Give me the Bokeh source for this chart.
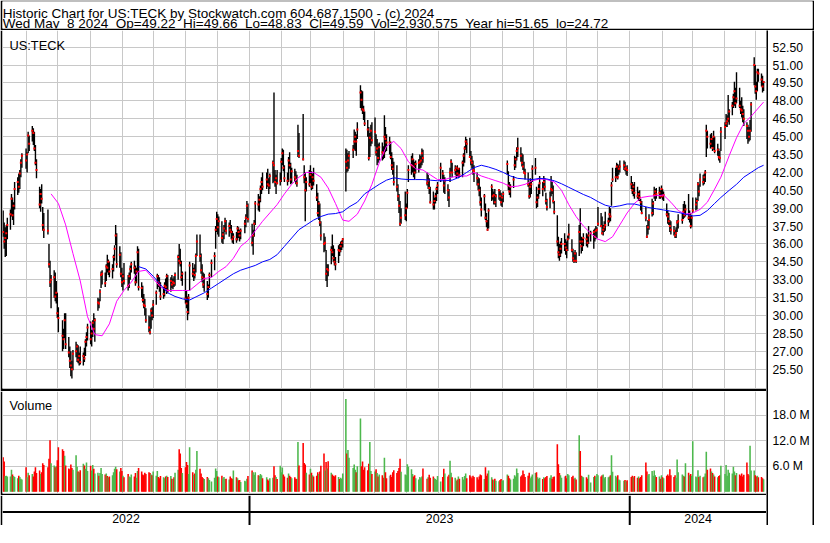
import numpy as np
import pandas as pd
from bokeh.plotting import figure
from bokeh.layouts import column, row
from bokeh.models import (ColumnDataSource, Range1d, FixedTicker, Grid,
                          CustomJSTickFormatter, Span)
from bokeh.core.properties import value
from bokeh.embed import file_html
from bokeh.resources import INLINE

# ---------------- data ----------------
NB = " \u00a0"   # double space that survives SVG whitespace collapsing
TITLE_1 = "Historic Chart for US:TECK by Stockwatch.com 604.687.1500 - (c) 2024"
TITLE_2 = NB.join(["Wed May", "8 2024", "Op=49.22", "Hi=49.66", "Lo=48.83", "Cl=49.59",
                   "Vol=2,930,575", "Year hi=51.65", "lo=24.72"])
SYMBOL = "US:TECK"

HOLIDAYS = ["2022-05-30", "2022-06-20", "2022-07-04", "2022-09-05", "2022-11-24",
            "2022-12-26", "2023-01-02", "2023-01-16", "2023-02-20", "2023-04-07",
            "2023-05-29", "2023-06-19", "2023-07-04", "2023-09-04", "2023-11-23",
            "2023-12-25", "2024-01-01", "2024-01-15", "2024-02-19", "2024-03-29"]
FIRST_DAY = "2022-05-09"
LAST_DAY = "2024-05-08"

price_ticks = [25.5, 27.0, 28.5, 30.0, 31.5, 33.0, 34.5, 36.0, 37.5, 39.0, 40.5,
               42.0, 43.5, 45.0, 46.5, 48.0, 49.5, 51.0, 52.5]
volume_ticks = [6.0, 12.0, 18.0]   # millions
years = [2022, 2023, 2024]

# daily bars, one inner list per trading week (Mon..Fri, holidays skipped)
high_w = [
 [38.8,37.8,37.4,37.6,38.2],[38.9,40.2,39.9,39.5,41.2],[41.6,41.9,42.2,43.1,43.6],[44.0,43.7,45.4,45.1],
 [45.9,45.7,45.4,44.3,43.1],[40.8,40.6,41.0,39.1,38.6],[38.9,36.0,34.6,33.4],[33.8,33.6,32.9,31.9,30.7],
 [29.6,28.9,30.2,30.2],[28.2,27.4,27.0,26.2,27.1],[27.8,27.6,27.5,26.9,27.4],[26.9,27.3,28.0,28.6,29.3],
 [29.5,28.8,29.6,30.2,29.8],[31.5,31.4,32.2,33.7,33.8],[33.6,34.3,35.1,34.7,34.5],[34.3,35.1,35.9,37.6,36.9],
 [35.8,35.3,34.0,33.5,34.4],[33.4,33.6,34.2,34.5],[34.6,34.2,34.0,35.8,35.6],[32.8,32.5,31.8,31.4,30.6],
 [30.0,29.9,30.6,30.7,31.3],[32.1,33.5,33.4,33.2,32.8],[32.4,32.8,33.1,33.5,33.4],[33.2,33.4,33.1,33.3,33.6],
 [35.1,36.0,35.6,34.6,33.7],[33.7,32.1,31.6,31.8,34.5],[34.4,34.0,34.3,35.2,36.8],[36.8,35.2,34.3,33.6,33.5],
 [32.9,32.6,33.6,34.7],[35.3,37.5,38.7,38.5,38.3],[37.9,37.0,37.6,38.2,38.0],[37.8,38.0,37.6,37.1,36.9],
 [37.0,37.5,37.4,37.2,37.3],[38.0,38.5,39.6,39.4],[37.7,37.2,38.0,39.6],[40.2,40.0,40.9,41.6,42.0],
 [42.0,42.3,41.5,41.9],[43.0,48.7,42.2,41.8,42.2],[42.0,43.2,44.0,43.9,42.6],[42.0,43.3,43.7,42.8,42.4],
 [42.3,42.1,41.8,46.0,45.3],[46.9,42.6,42.0,41.6],[42.2,42.6,42.1,41.9,42.4],[41.0,40.3,39.6,39.4,37.9],
 [36.9,36.6,35.5,34.3,34.3],[35.8,36.8,35.9,35.6,34.9],[35.9,36.0,36.2,36.3,36.5],[44.0,43.9,43.6,43.8],
 [44.3,45.6,45.4,45.2,46.2],[49.3,48.9,48.8,47.6,47.1],[46.4,45.8,45.3,46.0,46.2],[46.6,45.2,44.8,44.4,44.5],
 [44.5,44.2,46.8,45.8,45.2],[45.0,44.6,43.7,43.2,42.9],[42.6,41.0,40.2,39.6,39.0],[40.4,39.4,40.6,42.6],
 [43.4,43.6,43.1,42.9,43.0],[43.1,43.5,43.4,44.0,43.9],[42.0,41.8,41.5,40.8],[40.4,39.9,40.3,40.8,41.2],
 [42.8,42.2,41.8,41.6],[41.0,40.6,42.4,43.1,42.8],[42.6,42.5,42.6,42.3,42.4],[43.0,43.6,44.2,45.0,44.8],
 [44.9,43.8,43.4,43.0,42.6],[42.0,41.6,41.5,40.8,39.9],[40.2,39.4,38.6,38.0,39.0],[41.0,40.6,40.4,40.6,40.2],
 [40.6,40.5,40.3,40.0,40.4],[43.0,42.1,41.2,41.0],[41.7,43.4,43.3,44.1,44.9],[44.1,43.6,43.5,42.9,42.3],
 [42.0,41.2,41.5,41.3,42.6],[43.2,40.8,40.2,41.0,41.7],[41.2,41.7,41.5,40.3,39.8],[40.4,41.7,41.2,40.9,39.6],
 [38.4,36.6,36.0,36.2,36.5],[36.9,36.4,36.2,36.7,37.7],[36.4,35.6,35.3,35.5,35.3],[37.6,39.0,36.6,36.5,36.9],
 [36.9,36.8,37.5,37.1],[37.2,37.3,37.5,37.4,39.1],[38.6,38.3,37.6,37.9,38.7],[38.2,39.1,39.0,41.2,42.4],
 [42.4,42.8,42.7,42.6,43.0],[43.0,42.9,42.5,42.6],[41.7,41.2,41.0,41.2],[40.8,40.4,40.5,39.8,39.6],
 [39.1,37.6,38.0,38.5],[39.8,39.6,40.8,40.6,40.7],[40.8,40.5,40.9,40.6,40.4],[39.4,38.8,38.6,38.0,37.9],
 [37.5,37.2,37.4,38.0,38.5],[38.6,39.35,39.6,39.3],[40.2,38.8,38.6,38.4,39.9],[39.9,39.8,41.2,41.0,41.9],
 [41.8,41.9,42.2,46.0,45.5],[45.2,45.3,44.9,45.5,45.0],[44.4,44.0,43.8,45.8],[46.2,46.9,46.8,48.5,47.3],
 [47.9,48.6,49.6,49.1,50.4],[49.1,48.0,48.3,47.6,47.3],[46.2,46.0,45.8,46.4,47.9],[51.65,51.0,49.6,50.7,50.7],
 [50.3,50.1,49.66],
]
low_w = [
 [36.6,35.6,34.9,35.0,36.4],[37.2,38.3,38.0,37.6,38.9],[40.1,40.3,40.6,41.6,42.4],[42.3,42.0,43.6,43.8],
 [44.6,44.3,43.8,42.6,41.5],[39.0,38.7,39.4,37.1,36.5],[36.8,34.0,32.4,30.6],[31.5,31.2,31.0,29.8,28.6],
 [27.0,27.2,28.1,27.2],[26.5,25.6,24.9,24.72,25.4],[26.5,26.1,26.0,25.8,25.9],[25.8,26.1,26.6,27.4,27.9],
 [27.6,27.4,28.2,28.6,27.8],[30.4,30.6,31.2,32.3,32.6],[32.4,32.9,33.6,33.4,33.2],[33.1,33.7,34.6,35.9,34.0],
 [34.0,33.2,32.4,32.1,32.6],[32.1,32.3,33.0,33.6],[33.5,32.5,32.7,33.6,32.1],[31.5,31.1,30.6,30.0,29.4],
 [28.6,28.4,28.9,29.6,29.8],[30.9,32.2,32.4,32.0,31.3],[31.4,31.6,32.1,31.8,31.9],[32.0,32.3,32.2,32.4,32.5],
 [33.0,34.3,34.1,32.9,32.5],[31.0,30.6,29.6,30.1,32.1],[33.2,32.9,33.1,33.6,35.0],[34.5,33.5,32.8,32.3,32.0],
 [31.3,31.5,32.3,33.2],[33.8,35.6,37.0,36.8,36.6],[36.1,36.0,36.4,37.0,36.8],[36.6,36.9,36.4,36.1,36.0],
 [36.1,36.3,36.5,36.2,36.4],[36.9,37.4,38.1,37.8],[35.8,35.1,36.6,37.6],[38.8,38.7,39.5,40.2,40.5],
 [40.6,40.8,40.2,40.6],[41.1,41.2,40.8,40.2,41.0],[40.9,41.2,42.6,42.1,41.2],[40.9,41.2,42.3,41.0,41.1],
 [41.2,41.0,40.8,43.3,43.2],[43.0,41.1,37.9,40.4],[40.8,41.1,40.5,40.6,40.9],[39.6,38.3,38.0,37.5,36.3],
 [35.3,35.4,32.9,32.4,33.3],[34.3,35.0,34.5,34.2,33.8],[34.4,35.0,35.3,35.5,35.7],[40.4,42.0,42.1,42.3],
 [43.2,43.9,43.8,43.4,44.8],[47.4,47.2,46.9,46.4,45.9],[45.0,43.0,43.3,44.2,44.4],[44.2,43.4,42.6,42.8,43.0],
 [43.0,43.1,43.2,43.7,43.8],[43.5,43.1,42.2,41.8,40.9],[40.4,39.6,38.6,37.5,37.7],[38.0,37.9,39.0,41.2],
 [41.8,42.0,41.6,41.4,41.9],[42.0,42.3,42.4,42.6,42.8],[40.9,40.6,40.2,39.4],[38.9,38.9,39.4,39.6,40.2],
 [41.2,41.4,40.3,40.2],[39.6,39.1,41.2,42.0,41.6],[41.8,41.5,41.7,41.5,41.6],[41.6,42.5,42.8,43.9,43.6],
 [43.2,42.6,42.3,41.8,41.2],[40.9,40.5,40.0,39.2,38.3],[38.8,38.0,37.4,37.1,37.3],[39.6,39.7,39.3,39.3,39.1],
 [39.7,39.6,39.2,39.1,39.5],[41.8,40.5,40.1,39.9],[40.7,42.2,42.4,43.0,43.3],[42.9,42.5,42.2,41.9,41.4],
 [40.8,39.8,39.9,40.2,41.2],[41.8,39.0,39.1,39.8,40.2],[40.0,40.6,40.4,39.3,38.8],[39.0,40.0,40.2,39.4,38.5],
 [35.8,34.8,34.6,34.9,35.2],[35.4,35.1,34.8,35.4,36.4],[35.3,34.5,34.4,34.5,34.4],[35.0,36.0,35.2,35.4,35.8],
 [35.8,35.7,36.0,36.2],[35.6,36.2,36.4,36.5,37.5],[37.4,36.8,36.7,37.0,37.1],[37.5,37.8,37.9,39.2,41.2],
 [41.2,41.5,41.4,41.8,42.0],[42.2,42.1,41.8,41.7],[40.6,40.2,40.0,39.8],[39.8,39.6,39.6,38.8,38.5],
 [37.9,36.5,36.8,37.2],[38.3,38.4,39.8,39.6,39.8],[39.8,39.8,39.9,39.7,39.6],[38.3,37.7,37.6,37.0,36.8],
 [36.7,36.5,36.5,37.0,37.3],[37.7,38.1,38.2,38.3],[38.0,37.8,37.3,37.4,38.6],[38.8,38.9,39.6,40.0,40.8],
 [40.9,41.0,41.2,43.3,44.0],[44.0,44.1,43.8,43.9,43.6],[43.4,43.0,42.8,43.8],[44.8,45.8,45.8,46.2,46.0],
 [46.8,47.4,47.6,47.4,47.8],[47.4,46.9,46.6,46.2,45.9],[44.8,44.4,44.6,44.7,45.4],[49.3,48.6,48.1,48.8,49.6],
 [49.2,48.7,48.83],
]
close_w = [
 [37.0,36.2,36.5,36.9,37.6],[38.5,39.8,38.4,39.2,40.6],[41.2,40.8,41.9,42.8,43.4],[43.0,43.5,45.1,44.4],
 [45.5,45.3,44.0,42.8,42.2],[39.3,40.2,39.8,37.6,37.2],[37.1,34.3,32.8,33.0],[33.2,31.6,31.9,30.2,29.8],
 [28.3,28.0,29.6,27.6],[26.9,26.2,25.8,25.5,26.8],[27.0,27.4,26.3,26.6,26.1],[26.6,26.4,27.8,28.2,29.0],
 [28.0,28.5,29.4,28.9,29.6],[31.1,31.0,32.0,33.4,33.5],[32.7,34.1,34.0,34.5,33.7],[33.9,34.9,35.6,36.7,34.3],
 [35.1,33.5,32.8,33.3,32.9],[32.5,33.3,33.9,34.3],[34.0,32.8,33.7,35.3,32.4],[32.3,31.3,30.9,30.8,29.6],
 [29.0,28.6,30.4,30.0,30.9],[31.9,33.3,32.8,32.6,31.6],[31.8,32.5,32.4,33.3,32.1],[32.9,32.6,32.8,32.7,33.4],
 [34.9,34.6,34.4,33.2,33.5],[31.4,31.0,30.3,31.5,34.2],[33.5,33.8,33.4,35.0,36.2],[35.0,33.8,33.2,32.6,33.1],
 [31.8,32.4,33.4,34.4],[35.0,37.2,38.1,37.4,37.9],[36.5,36.8,37.3,37.9,37.1],[37.5,37.2,37.0,36.4,36.6],
 [36.4,37.3,37.0,36.7,37.1],[37.7,38.2,39.2,38.1],[36.1,36.7,37.7,39.4],[39.3,39.7,40.6,41.2,40.8],
 [41.4,41.0,40.9,41.7],[42.8,42.6,41.2,41.5,41.1],[41.3,42.9,43.6,42.4,41.5],[41.3,43.0,42.6,41.4,42.1],
 [41.6,41.4,41.1,43.8,43.4],[43.1,41.6,40.5,41.2],[41.0,41.8,40.8,41.6,41.3],[39.9,38.6,39.4,37.8,36.7],
 [36.0,36.1,33.5,33.9,33.8],[35.5,35.3,34.8,34.5,34.3],[35.5,35.4,35.8,36.1,36.4],[42.9,42.4,43.0,43.4],
 [43.9,44.6,45.0,44.6,45.6],[48.7,48.1,47.3,47.2,46.1],[45.6,43.2,44.9,45.5,44.7],[45.4,43.7,44.0,43.2,44.1],
 [43.7,43.6,45.0,44.8,44.5],[44.5,43.3,42.6,42.3,41.2],[40.8,40.0,39.2,37.7,38.2],[38.4,39.0,40.3,42.2],
 [42.6,43.1,42.5,42.0,42.7],[42.8,42.9,43.0,43.6,43.2],[41.1,41.3,40.7,39.5],[39.3,39.6,40.0,40.6,40.9],
 [42.4,41.9,40.9,41.3],[40.5,39.9,42.0,42.9,42.0],[42.2,42.4,41.9,42.3,41.8],[42.8,43.4,44.0,44.6,44.4],
 [43.3,43.0,42.8,42.2,42.1],[41.5,41.0,40.5,39.5,38.9],[40.0,38.2,37.9,37.2,38.8],[40.8,40.0,40.1,39.5,40.0],
 [40.5,40.0,39.5,39.9,40.2],[42.7,40.9,40.4,40.8],[41.4,42.6,43.1,43.8,44.0],[43.4,42.8,42.5,42.0,41.9],
 [41.0,40.0,40.8,41.0,42.3],[42.4,39.5,39.9,40.6,41.1],[40.6,41.2,40.8,39.6,39.1],[39.8,40.6,40.5,39.6,38.7],
 [36.2,35.3,35.1,35.6,36.0],[36.0,35.7,35.5,36.4,36.8],[35.5,34.8,34.6,35.2,34.6],[37.0,36.2,35.8,36.2,36.5],
 [36.4,36.1,36.7,36.9],[37.0,36.6,37.1,37.2,37.7],[37.5,36.9,37.2,37.4,37.6],[37.9,38.5,38.3,40.9,41.4],
 [41.6,42.5,41.6,42.3,42.5],[42.6,42.3,42.4,42.2],[41.0,40.5,40.8,40.3],[40.0,40.2,39.9,39.5,38.6],
 [38.2,36.6,37.4,38.0],[38.6,39.4,40.1,40.4,40.2],[40.3,40.0,40.6,40.0,40.1],[38.5,38.3,37.9,37.5,37.2],
 [37.1,36.7,36.9,37.8,37.9],[38.0,38.7,38.4,38.9],[38.2,38.4,37.5,38.2,38.8],[39.3,39.6,41.0,40.4,41.4],
 [41.2,41.6,42.0,45.5,45.0],[44.4,44.8,44.05,45.0,43.8],[43.9,43.3,43.2,45.4],[45.8,46.1,46.3,46.5,47.1],
 [47.6,48.3,48.8,47.8,48.2],[47.6,47.3,47.2,46.9,46.5],[45.9,45.5,45.0,45.5,47.7],[51.0,49.2,48.8,50.4,50.3],
 [49.8,49.2,49.59],
]
volume_w = [  # millions of shares
 [8.1,7.1,3.7,3.8,3.6],[3.6,5.2,4.1,3.7,3.5],[3.2,3.8,3.5,3.1,2.9],[5.8,3.4,4.5,3.9],
 [4.2,3.6,4.8,5.8,4.4],[5.0,4.2,4.6,6.7,6.3],[5.8,7.8,12.1,6.7],[6.2,5.8,6.0,7.4,10.5],
 [10.0,9.6,8.5,6.2],[5.5,5.3,6.4,5.6,5.2],[8.6,5.9,4.8,4.6,5.1],[6.6,6.2,5.4,6.9,4.9],
 [6.1,5.0,6.3,5.4,4.3],[4.5,3.8,4.4,5.6,4.2],[4.1,4.3,3.7,3.4,3.6],[3.9,4.6,5.4,5.9,5.3],
 [4.8,5.6,4.9,3.8,3.4],[4.2,3.6,3.4,4.1],[3.6,4.4,3.3,4.9,5.6],[4.8,4.1,3.9,4.5,4.2],
 [4.6,4.4,4.1,3.9,4.8],[3.8,4.9,3.5,3.2,3.7],[3.4,3.2,3.6,3.8,3.5],[3.7,3.1,3.0,3.4,4.5],
 [5.2,10.0,9.0,5.6,4.4],[5.8,7.0,6.3,4.2,10.5],[4.6,4.0,4.3,5.2,9.6],[5.4,4.3,3.5,3.2,3.0],
 [3.5,3.2,2.8,2.4],[3.3,5.5,4.9,3.6,3.4],[3.8,3.2,3.5,3.0,3.1],[2.9,3.6,3.2,3.1,5.0],
 [3.4,3.2,2.7,2.8,2.3],[2.6,2.4,3.1,3.7],[5.0,4.6,4.0,4.6],[3.9,3.8,4.2,3.9,3.2],
 [3.4,2.9,2.6,3.2],[3.3,6.0,3.9,3.5,3.0],[6.1,4.6,5.7,4.1,3.6],[3.3,4.3,3.8,3.5,3.2],
 [3.4,3.1,3.0,11.7,6.2],[11.5,6.8,6.4,4.5],[4.1,5.4,4.5,3.9,3.6],[3.8,4.6,4.2,4.8,6.1],
 [9.0,5.0,7.0,5.5,7.2],[4.5,4.1,3.8,3.6,3.9],[3.5,3.0,3.3,3.1,4.3],[21.8,9.0,9.8,8.0],
 [5.6,6.4,5.2,4.6,6.0],[17.2,6.0,7.1,5.2,5.8],[5.1,6.6,11.7,4.9,4.2],[4.8,5.3,4.4,3.6,4.1],
 [3.9,3.3,8.0,4.6,3.2],[3.8,4.0,3.5,4.6,5.1],[4.4,4.9,5.6,7.8,4.7],[4.1,3.9,6.5,5.9],
 [5.3,4.2,3.6,3.9,3.2],[2.9,3.5,3.2,3.6,5.5],[3.1,3.4,4.0,3.3],[3.6,3.2,3.0,2.8,3.7],
 [2.4,3.5,5.4,4.3],[3.6,4.0,7.3,4.5,3.4],[3.3,2.6,2.9,3.6,3.1],[3.5,2.9,3.7,4.3,3.2],
 [3.9,3.6,3.2,3.8,3.5],[3.4,2.9,3.6,4.1,3.9],[3.0,5.8,3.8,4.3,5.0],[3.4,2.9,2.7,3.1,2.6],
 [2.5,2.8,3.0,2.6,2.7],[4.1,3.8,3.2,2.9],[3.1,3.9,3.6,5.5,4.4],[3.6,3.9,5.0,4.2,3.5],
 [3.8,4.5,3.2,3.6,4.1],[4.4,4.6,3.4,3.1,3.3],[3.0,3.4,3.2,3.5,3.7],[3.3,3.9,3.1,3.5,3.6],
 [11.2,6.5,4.4,3.9,3.3],[3.6,3.8,3.2,4.2,3.9],[3.5,3.8,3.1,3.3,2.9],[13.3,9.6,3.8,3.6,3.4],
 [3.4,3.1,4.0,2.2],[3.5,3.8,3.4,4.2,3.9],[3.6,3.9,4.1,3.2,3.5],[3.4,3.6,3.9,8.6,4.7],
 [3.8,3.4,3.9,2.9,2.7],[2.6,2.8,2.5,2.7],[3.5,3.8,3.4,3.7],[3.3,3.6,3.2,3.5,3.9],
 [6.9,4.8,3.9,4.2],[4.9,3.8,5.0,3.9,3.5],[3.6,3.1,3.9,3.4,3.2],[3.8,4.1,3.7,5.3,3.9],
 [3.5,3.9,3.3,7.6,4.6],[4.1,3.8,3.6,6.7],[4.5,3.9,4.2,3.8,11.9],[3.6,3.4,5.1,3.5,3.8],
 [3.4,3.6,4.3,9.4,5.2],[5.5,4.8,4.4,4.1,3.6],[3.4,3.7,3.9,6.1],[4.2,6.3,3.8,5.2,4.5],
 [4.3,5.9,4.8,3.9,4.4],[4.1,3.8,4.3,3.6,4.0],[6.9,4.2,3.9,10.8,5.0],[5.0,3.9,3.6,3.8,3.4],
 [3.5,3.2,2.93],
]
# moving averages at the last trading day of every week
ma_fast_w = [None, None, None, None, None, None,
 40.2, 39.4, 37.6, 35.2, 32.9, 29.9, 28.4, 28.3, 29.3, 31.2, 32.1, 32.8, 33.7, 33.8,
 33.1, 32.4, 32.1, 32.1, 32.1, 32.1, 32.6, 33.1, 33.2, 33.7, 34.1, 34.8, 35.8, 36.3,
 37.1, 37.9, 38.6, 39.3, 40.2, 41.0, 41.6, 42.0, 42.0, 41.6, 40.7, 39.4, 38.0, 37.9,
 38.5, 39.6, 41.0, 42.8, 44.2, 44.6, 44.0, 42.9, 42.3, 42.2, 41.8, 41.4, 41.4, 41.6,
 41.7, 41.7, 42.0, 41.7, 41.5, 41.3, 41.1, 40.8, 40.85, 41.0, 41.3, 41.45, 41.4, 41.2,
 40.5, 39.3, 38.3, 37.5, 36.9, 36.4, 36.2, 36.6, 37.6, 38.6, 39.4, 39.9, 40.0, 40.05,
 40.1, 39.5, 38.8, 38.5, 38.6, 38.9, 39.5, 40.6, 41.6, 43.4, 44.9, 46.1, 46.7, 47.4, 47.9]
ma_slow_w = [None, None, None, None, None, None, None, None, None, None, None, None,
 None, None, None, None, None, None,
 34.1, 33.9, 33.3, 32.6, 31.9, 31.6, 31.4, 31.3, 31.6, 31.9, 32.3, 32.7, 33.1, 33.5,
 33.8, 34.0, 34.2, 34.5, 34.7, 35.1, 35.8, 36.5, 37.2, 37.6, 38.0, 38.3, 38.5, 38.55,
 38.7, 39.1, 39.5, 40.2, 40.6, 41.0, 41.35, 41.55, 41.45, 41.4, 41.4, 41.4, 41.35, 41.3,
 41.3, 41.35, 41.6, 42.0, 42.4, 42.6, 42.45, 42.25, 42.0, 41.7, 41.5, 41.45, 41.4, 41.5,
 41.45, 41.3, 41.05, 40.75, 40.45, 40.15, 39.9, 39.55, 39.25, 39.1, 39.2, 39.35, 39.35,
 39.2, 39.05, 38.95, 38.85, 38.75, 38.65, 38.5, 38.35, 38.4, 38.8, 39.4, 39.9, 40.5,
 41.0, 41.6, 42.0, 42.4, 42.6]

# ---------------- assemble ----------------
DAY_MS = 86400000.0
days = pd.bdate_range(FIRST_DAY, LAST_DAY, freq="C", holidays=HOLIDAYS)
week_idx = np.asarray((days - pd.Timestamp(FIRST_DAY)).days // 7)
day_ms = (days.asi8 // 10**6).astype(float)

xs, H, L, C, V = [], [], [], [], []
week_end_x = []
for k in range(len(high_w)):
    dms = day_ms[week_idx == k]
    if len(dms) == 0:
        continue
    week_end_x.append(dms[-1] + DAY_MS / 2)
    n = min(len(dms), len(high_w[k]), len(low_w[k]), len(close_w[k]), len(volume_w[k]))
    for i in range(n):
        xs.append(dms[i] + DAY_MS / 2)
        H.append(high_w[k][i]); L.append(low_w[k][i])
        C.append(close_w[k][i]); V.append(volume_w[k][i])

GREEN, RED, GREY = "#4DB84D", "#FF0000", "#A8A8A8"
vcol = []
for i, c in enumerate(C):
    if i == 0 or c < C[i - 1]:
        vcol.append(RED)
    elif c > C[i - 1]:
        vcol.append(GREEN)
    else:
        vcol.append(GREY)

src = ColumnDataSource(dict(x=xs, hi=H, lo=L, cl=C, vol=V, color=vcol))
nw = len(week_end_x)
ma_src = ColumnDataSource(dict(
    x=week_end_x,
    fast=np.array(ma_fast_w[:nw], dtype=float),
    slow=np.array(ma_slow_w[:nw], dtype=float)))

# ---------------- layout ----------------
FONT = "Liberation Sans"
GRID = "#C8C8C8"
X0 = pd.Timestamp("2022-05-08 21:00").value / 10**6
X1 = pd.Timestamp("2024-05-11 07:00").value / 10**6
xr = Range1d(X0, X1)
pr = Range1d(23.88, 53.90)
vr = Range1d(-0.39, 23.57)
month_ms = [t.value / 10**6 for t in pd.date_range("2022-06-01", "2024-05-01", freq="MS")]

FRAME_W = 764
PRICE_H, VOL_H = 361, 104
ppx = (X1 - X0) / FRAME_W


def base(w, h, **kw):
    f = figure(width=w, height=h, toolbar_location=None, output_backend="svg",
               title=None, min_border_left=0, min_border_right=0,
               min_border_top=0, min_border_bottom=0, **kw)
    f.outline_line_color = None
    return f


def strip(w, h, color="black"):
    f = base(w, h, x_axis_type=None, y_axis_type=None,
             x_range=Range1d(0, 1), y_range=Range1d(0, 1))
    f.background_fill_color = color
    f.border_fill_color = color
    return f


# header
hdr = base(814, 30, x_axis_type=None, y_axis_type=None,
           x_range=Range1d(0, 810), y_range=Range1d(0, 27))
hdr.min_border_left = 2; hdr.min_border_right = 2
hdr.min_border_top = 1; hdr.min_border_bottom = 2
hdr.border_fill_color = "black"; hdr.background_fill_color = "white"
hdr.text(x=[0.3, 0.3], y=[14.7, 4.6], text=[TITLE_1, TITLE_2],
         text_font=value(FONT), text_font_size="13.5px", text_color="black",
         text_baseline="alphabetic", text_align="left")

# price panel
p = base(766, PRICE_H, x_range=xr, y_range=pr, x_axis_type=None, y_axis_type=None)
p.min_border_left = 2; p.min_border_bottom = 3
p.border_fill_color = "black"; p.background_fill_color = "white"
p.add_layout(Grid(dimension=0, ticker=FixedTicker(ticks=month_ms),
                  grid_line_color=GRID, grid_line_width=1))
p.add_layout(Grid(dimension=1, ticker=FixedTicker(ticks=price_ticks),
                  grid_line_color=GRID, grid_line_width=1))
p.segment(x0="x", y0="lo", x1="x", y1="hi", source=src, line_color="black", line_width=1.4)
p.rect(x="x", y="cl", width=2, height=2, width_units="screen", height_units="screen",
       source=src, fill_color="#FF0000", line_color=None)
p.line(x="x", y="fast", source=ma_src, line_color="#FF00FF", line_width=1)
p.line(x="x", y="slow", source=ma_src, line_color="#0000FF", line_width=1)
ppy = (pr.end - pr.start) / (PRICE_H - 3)
p.text(x=[X0 + 7 * ppx], y=[pr.end - 15 * ppy], text=[SYMBOL], text_font=value(FONT),
       text_font_size="12.8px", text_color="black", text_baseline="alphabetic")

# volume panel
v = base(766, VOL_H, x_range=xr, y_range=vr, x_axis_type=None, y_axis_type=None)
v.min_border_left = 2; v.min_border_bottom = 2
v.border_fill_color = "black"; v.background_fill_color = "white"
v.add_layout(Grid(dimension=0, ticker=FixedTicker(ticks=month_ms),
                  grid_line_color=GRID, grid_line_width=1))
v.add_layout(Grid(dimension=1, ticker=FixedTicker(ticks=volume_ticks),
                  grid_line_color=GRID, grid_line_width=1))
v.vbar(x="x", width=DAY_MS * 1.5, top="vol", bottom=0, source=src,
       fill_color="color", line_color=None)
vpy = (vr.end - vr.start) / (VOL_H - 2)
v.text(x=[X0 + 7 * ppx], y=[vr.end - 13.6 * vpy], text=["Volume"], text_font=value(FONT),
       text_font_size="12.8px", text_color="black", text_baseline="alphabetic")

# year band
yb = base(766, 30, x_range=xr, y_range=Range1d(0, 30), x_axis_type=None, y_axis_type=None)
yb.min_border_left = 2
yb.border_fill_color = "black"; yb.background_fill_color = "white"
yb.add_layout(Span(location=13.6, dimension="width", line_color="black", line_width=2))
yx, yt = [], []
for yv in years:
    a = max(X0, pd.Timestamp(f"{yv}-01-01").value / 10**6)
    b = min(X1, pd.Timestamp(f"{yv + 1}-01-01").value / 10**6)
    yx.append((a + b) / 2); yt.append(str(yv))
    if pd.Timestamp(f"{yv}-01-01").value / 10**6 > X0:
        yb.add_layout(Span(location=pd.Timestamp(f"{yv}-01-01").value / 10**6,
                           dimension="height", line_color="black", line_width=2))
yb.text(x=yx, y=[7.0] * len(yx), text=yt, text_font=value(FONT), text_font_size="12.4px",
        text_color="black", text_align="center", text_baseline="middle")

# right-hand axis column
def axis_fig(h, yrange, ticks, code, bottom):
    f = base(44, h, x_range=Range1d(0, 1), y_range=yrange, x_axis_type=None,
             y_axis_location="right")
    f.min_border_right = 43; f.min_border_bottom = bottom
    f.border_fill_color = "white"; f.background_fill_color = "white"
    f.ygrid.visible = False
    ax = f.yaxis[0]
    ax.ticker = FixedTicker(ticks=ticks)
    ax.formatter = CustomJSTickFormatter(code=code)
    ax.axis_line_color = None
    ax.major_tick_line_color = None
    ax.minor_tick_line_color = None
    ax.major_tick_in = 0; ax.major_tick_out = 0
    ax.major_label_standoff = 3
    ax.major_label_text_font = FONT
    ax.major_label_text_font_size = "12.2px"
    ax.major_label_text_color = "black"
    return f

pa = axis_fig(PRICE_H, pr, price_ticks, "return tick.toFixed(2)", 3)
va = axis_fig(VOL_H, vr, volume_ticks, "return tick.toFixed(1) + ' M'", 2)
blank = strip(44, 30, "white")

left_col = column(p, v, yb)
right_col = column(pa, va, blank)
middle = row(left_col, strip(2, 495), right_col, strip(2, 495))
layout = column(hdr, middle, strip(814, 2))

open("out.html", "w").write(file_html(layout, INLINE))
